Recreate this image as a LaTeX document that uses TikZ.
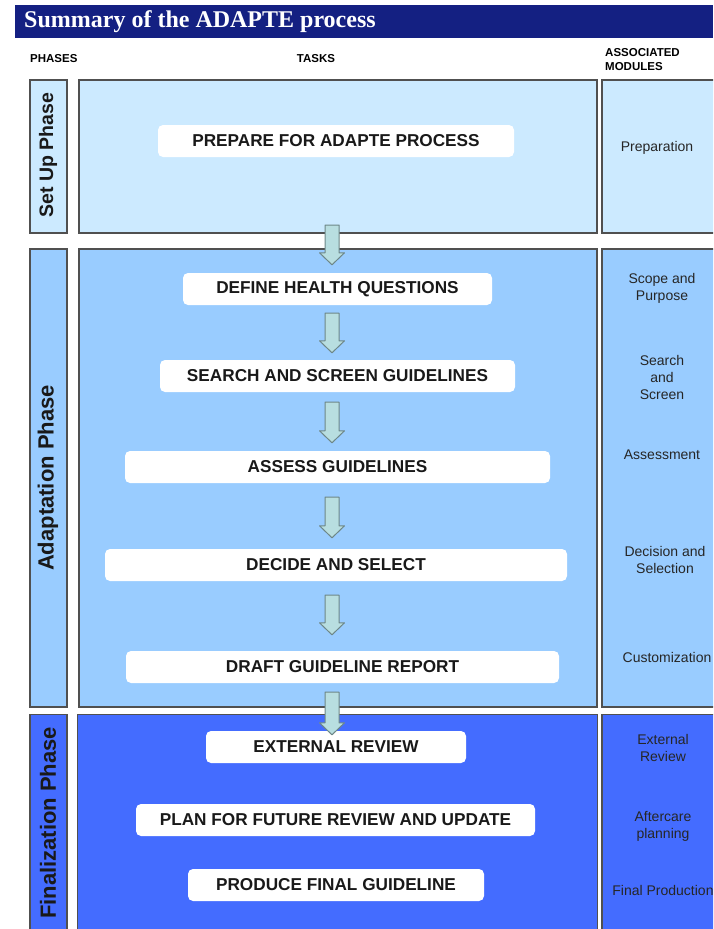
\documentclass[tikz,border=0pt]{standalone}
\usepackage{fontspec}
\setmainfont{Liberation Sans}
\newfontfamily\titlefont{Liberation Serif}
\usetikzlibrary{calc}
\definecolor{navy}{RGB}{20,32,130}
\definecolor{setupc}{RGB}{204,234,255}
\definecolor{adaptc}{RGB}{153,204,255}
\definecolor{finalc}{RGB}{68,108,255}
\definecolor{arrowc}{RGB}{184,222,224}
\definecolor{arrowline}{RGB}{110,135,135}
\definecolor{boxline}{RGB}{80,80,80}
\newcommand\blockarrow[2]{%
  \path[blockarr] let \p1=#1, \p2=#2 in
    (325pt,\y1) -- (339pt,\y1) -- (339pt,\y2+12pt) -- (344.5pt,\y2+12pt)
    -- (332pt,\y2) -- (319.5pt,\y2+12pt) -- (325pt,\y2+12pt) -- cycle;}
\begin{document}
\begin{tikzpicture}[x=1pt,y=-1pt,
  panel/.style={draw=boxline, line width=1.2pt, inner sep=0pt, outer sep=0pt},
  task/.style={fill=white, rounded corners=5pt, minimum height=32pt, inner sep=0pt,
    font=\bfseries\fontsize{17.2}{19}\selectfont, text=black!90},
  module/.style={align=center, font=\fontsize{14}{17}\selectfont, text=black!85},
  phaselabel/.style={rotate=90, font=\bfseries\fontsize{22}{24}\selectfont, text=black!90},
  header/.style={font=\bfseries\fontsize{11.5}{14.5}\selectfont, inner sep=0pt},
  blockarr/.style={fill=arrowc, draw=arrowline, line width=1pt, line join=round}]
\useasboundingbox (0,0) rectangle (713,929);
\clip (0,0) rectangle (713,929);
% title
\node[fill=navy, minimum width=698pt, minimum height=33pt, anchor=north west, inner sep=0pt] (titlebar) at (15,5) {};
\node[anchor=west, text=white, inner sep=0pt, font=\titlefont\bfseries\fontsize{24}{26}\selectfont] (title) at (24,21.5) {Summary of the ADAPTE process};
% headers
\node[header, anchor=west] (hphases) at (30,59) {PHASES};
\node[header] (htasks) at (316,59) {TASKS};
\node[header, anchor=north west, align=left] (hmodules) at (605,48) {ASSOCIATED\\MODULES};
% set up row
\node[panel, fill=setupc, minimum width=37pt, minimum height=153pt] (p1) at (48.5,156.5) {};
\node[panel, fill=setupc, minimum width=518pt, minimum height=153pt] (t1) at (338,156.5) {};
\node[panel, fill=setupc, minimum width=120pt, minimum height=153pt, anchor=west] (m1) at (602,156.5) {};
% adaptation row
\node[panel, fill=adaptc, minimum width=37pt, minimum height=458pt] (p2) at (48.5,478) {};
\node[panel, fill=adaptc, minimum width=518pt, minimum height=458pt] (t2) at (338,478) {};
\node[panel, fill=adaptc, minimum width=120pt, minimum height=458pt, anchor=west] (m2) at (602,478) {};
% finalization row
\node[panel, fill=finalc, minimum width=37pt, minimum height=230pt] (p3) at (48.5,829.5) {};
\node[panel, fill=finalc, minimum width=520pt, minimum height=230pt] (t3) at (337.5,829.5) {};
\node[panel, fill=finalc, minimum width=120pt, minimum height=230pt, anchor=west] (m3) at (602,829.5) {};
% phase labels
\node[phaselabel, font=\bfseries\fontsize{19.5}{22}\selectfont] (l1) at (48,155) {Set Up Phase};
\node[phaselabel] (l2) at (48,478) {Adaptation Phase};
\node[phaselabel] (l3) at (48,823) {Finalization Phase};
% tasks
\node[task, minimum width=356pt] (prep) at (336,141) {PREPARE FOR ADAPTE PROCESS};
\node[task, minimum width=309pt] (define) at (337.5,289) {DEFINE HEALTH QUESTIONS};
\node[task, minimum width=355pt] (search) at (337.5,376) {SEARCH AND SCREEN GUIDELINES};
\node[task, minimum width=425pt] (assess) at (337.5,467) {ASSESS GUIDELINES};
\node[task, minimum width=462pt] (decide) at (336,565) {DECIDE AND SELECT};
\node[task, minimum width=433pt] (draft) at (342.5,667) {DRAFT GUIDELINE REPORT};
\node[task, minimum width=260pt] (external) at (336,747) {EXTERNAL REVIEW};
\node[task, minimum width=399pt] (plan) at (335.5,820) {PLAN FOR FUTURE REVIEW AND UPDATE};
\node[task, minimum width=296pt] (produce) at (336,885) {PRODUCE FINAL GUIDELINE};
% arrows
\blockarrow{($(t1.south)+(0,-8)$)}{($(define.north)+(0,-8)$)}
\blockarrow{($(define.south)+(0,8)$)}{($(search.north)+(0,-7)$)}
\blockarrow{($(search.south)+(0,10)$)}{($(assess.north)+(0,-8)$)}
\blockarrow{($(assess.south)+(0,14)$)}{($(decide.north)+(0,-11)$)}
\blockarrow{($(decide.south)+(0,14)$)}{($(draft.north)+(0,-16)$)}
\blockarrow{($(draft.south)+(0,9)$)}{($(external.north)+(0,4)$)}
% modules
\node[module] (mprep) at (657,148) {Preparation};
\node[module] (mscope) at (662,288.5) {Scope and\\Purpose};
\node[module] (msearch) at (662,377) {Search\\and\\Screen};
\node[module] (massess) at (662,455) {Assessment};
\node[module] (mdecide) at (665,560) {Decision and\\Selection};
\node[module] (mcustom) at (667,657) {Customization};
\node[module] (mext) at (663,747.5) {External\\Review};
\node[module] (mafter) at (663,826.5) {Aftercare\\planning};
\node[module] (mfinal) at (663,890) {Final Production};
\end{tikzpicture}
\end{document}
